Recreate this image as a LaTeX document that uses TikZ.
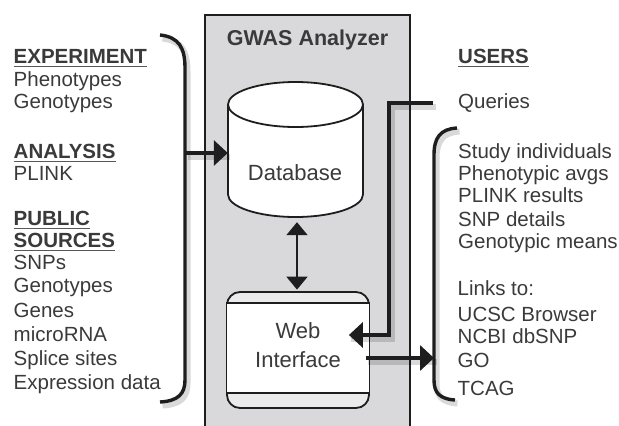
\documentclass[tikz,border=0pt]{standalone}
\usepackage{fontspec}
\setmainfont{Liberation Sans}
\usetikzlibrary{arrows.meta}
\definecolor{ink}{HTML}{3A3A3A}
\definecolor{panel}{HTML}{D9D9DB}
\definecolor{edge}{HTML}{1E1E1E}
\definecolor{strip}{HTML}{EBEBEB}

\begin{document}
\begin{tikzpicture}[x=1pt,y=-1pt,
  txt/.style={anchor=base west,inner sep=0pt,text=ink,font=\fontsize{20.5}{23}\selectfont},
  head/.style={anchor=base west,inner sep=0pt,text=ink,font=\fontsize{20.5}{23}\selectfont\bfseries},
  uline/.style={draw=ink!85,line width=1.6pt},
  shadowed/.style={preaction={draw=black,opacity=0.15,line width=6pt,-,
                   transform canvas={shift={(2.5pt,-3.5pt)}}}},
  conn/.style={draw=edge,line width=3.4pt,shadowed},
  tip/.style={-{Triangle[length=14pt,width=25pt]}},
  panelbox/.style={draw=edge,fill=panel,line width=2pt,minimum width=205pt,minimum height=420pt,inner sep=0pt},
  webbox/.style={draw=edge,fill=strip,line width=1.8pt,rounded corners=13pt,minimum width=142pt,minimum height=116pt,inner sep=0pt},
  center/.style={anchor=base,inner sep=0pt,text=ink,font=\fontsize{22}{28}\selectfont},
]
\useasboundingbox (0,0) rectangle (619,426);

% analyzer panel (its lower edge runs off the page)
\node[panelbox] (panel) at (307.5,225) {};
\node[anchor=base,inner sep=0pt,text=ink,font=\fontsize{21.5}{24}\selectfont\bfseries] (title) at (307.5,45) {GWAS Analyzer};

% database cylinder
\path[draw=edge,fill=white,line width=1.8pt]
  (228,104.5) -- (228,194.5)
  arc[start angle=180,end angle=360,x radius=67.5pt,y radius=22.5pt]
  -- (363,104.5)
  arc[start angle=0,end angle=180,x radius=67.5pt,y radius=22.5pt] -- cycle;
\draw[edge,line width=1.8pt] (228,104.5)
  arc[start angle=180,end angle=360,x radius=67.5pt,y radius=22.5pt];
\node[inner sep=0pt,minimum width=135pt,minimum height=135pt] (db) at (295.5,149.5) {};
\node[center] (dbtext) at (295,180) {Database};

% web interface box
\node[webbox] (web) at (298,350) {};
\fill[white] (227,303) rectangle (369,393);
\draw[edge,line width=1.6pt] (web.west |- 0,303) -- (web.east |- 0,303);
\draw[edge,line width=1.6pt] (web.west |- 0,393) -- (web.east |- 0,393);
\node[center] (webtext) at (298,338) {Web};
\node[center] (webtext2) at (298,367) {Interface};

% database <-> web interface
\draw[edge,line width=2pt,{Triangle[length=13pt,width=21pt]}-{Triangle[length=13pt,width=21pt]},
      shorten <=5pt,shorten >=1.5pt]
  ([xshift=1.5pt]db.south) -- ([xshift=1.5pt]db.south |- web.north);

% left side: data sources
\node[head] (hexp) at (13.5,63) {EXPERIMENT};
\node[txt] (pheno) at (13.5,86) {Phenotypes};
\node[txt] (geno) at (13.5,108) {Genotypes};
\node[head] (hana) at (13.5,158) {ANALYSIS};
\node[txt] (plink) at (13.5,180) {PLINK};
\node[head] (hpub) at (13.5,225) {PUBLIC};
\node[head] (hsrc) at (13.5,247) {SOURCES};
\node[txt] (snps) at (13.5,269) {SNPs};
\node[txt] (geno2) at (13.5,292) {Genotypes};
\node[txt] (genes) at (13.5,317) {Genes};
\node[txt] (mirna) at (13.5,341) {microRNA};
\node[txt] (splice) at (13.5,365) {Splice sites};
\node[txt] (expr) at (13.5,389) {Expression data};
\foreach \h in {hexp,hana,hpub,hsrc}
  \draw[uline] ([yshift=-3.5pt]\h.base west) -- ([yshift=-3.5pt]\h.base east);

% right side: users and outputs
\node[head] (husr) at (458,63) {USERS};
\draw[uline] ([yshift=-3.5pt]husr.base west) -- ([yshift=-3.5pt]husr.base east);
\node[txt] (queries) at (458,108) {Queries};
\node[txt] (study) at (458,158) {Study individuals};
\node[txt] (phavg) at (458,180) {Phenotypic avgs};
\node[txt] (plres) at (458,202) {PLINK results};
\node[txt] (snpd) at (458,226) {SNP details};
\node[txt] (gmeans) at (458,248) {Genotypic means};
\node[txt] (links) at (457.5,295) {Links to:};
\node[txt] (ucsc) at (457.5,321) {UCSC Browser};
\node[txt] (ncbi) at (457.5,343) {NCBI dbSNP};
\node[txt] (go) at (457.5,367) {GO};
\node[txt] (tcag) at (457.5,395) {TCAG};

% left brace feeding the database
\coordinate (lbtop) at (160,35);
\coordinate (lbbot) at (160,402);
\coordinate (lbmid) at (185,153);
\draw[conn,line cap=butt] (lbtop) .. controls (179,37) and (185,48) .. (185,68)
  -- (185,380) .. controls (185,394) and (178,401) .. (lbbot);
\draw[conn,tip] (lbmid) -- (lbmid -| db.west);

% queries into the web interface
\coordinate (qend) at (433,103);
\draw[conn,tip] (qend) -- (389,103) -- (389,335) -- ([shift={(-21pt,15pt)}]web.east);

% right brace of outputs
\coordinate (rbtop) at (457,128);
\coordinate (rbbot) at (455,400);
\coordinate (rbmid) at (434,358);
\draw[conn] (rbtop) .. controls (440,129) and (434,138) .. (434,155)
  -- (434,380) .. controls (434,393) and (440,399) .. (rbbot);
\draw[conn,tip] ([shift={(-4pt,-8pt)}]web.east) -- (rbmid);
\end{tikzpicture}
\end{document}
